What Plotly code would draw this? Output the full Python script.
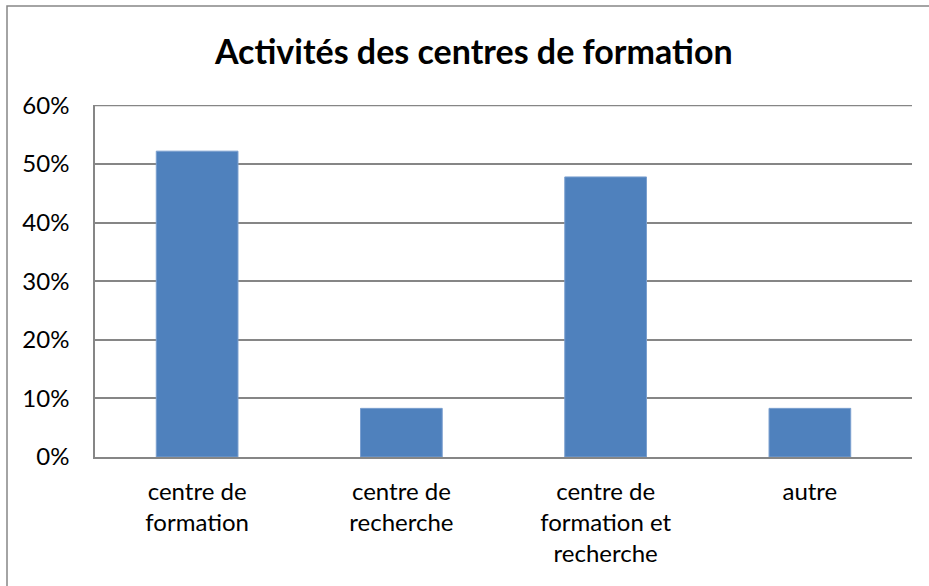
import plotly.graph_objects as go

categories = ["centre de<br>formation", "centre de<br>recherche", "centre de<br>formation et<br>recherche", "autre"]
values = [0.522, 0.083, 0.478, 0.083]
tick_vals = [0, 0.1, 0.2, 0.3, 0.4, 0.5, 0.6]
tick_text = ["0%", "10%", "20%", "30%", "40%", "50%", "60%"]
title_text = "Activités des centres de formation"

W, H = 929, 586
L, R, T, B = 95, 17, 105, 129
pw, ph = W - L - R, H - T - B

def px_x(x):
    return (x - L) / pw

def px_y(y):
    return (H - B - y) / ph

FONT = "Lato"

fig = go.Figure(go.Bar(
    x=categories, y=values,
    marker=dict(color="#4F81BD", line=dict(color="#7A9FCF", width=1)),
    width=0.4,
))

fig.update_layout(
    width=W, height=H,
    margin=dict(l=L, r=R, t=T, b=B, pad=0),
    paper_bgcolor="white", plot_bgcolor="white",
    showlegend=False,
    font=dict(family=FONT, size=24, color="black"),
    title=dict(text="<b>" + title_text + "</b>", x=0.51, xanchor="center",
               y=1 - 52 / H, yanchor="middle",
               font=dict(family=FONT, size=34, color="black")),
    bargap=0.6,
    shapes=[
        dict(type="rect", xref="paper", yref="paper",
             x0=px_x(7), x1=px_x(980), y0=px_y(640), y1=px_y(6),
             line=dict(color="#868686", width=1.5), fillcolor="rgba(0,0,0,0)",
             layer="below"),
        dict(type="line", xref="paper", yref="y",
             x0=0, x1=1, y0=tick_vals[-1], y1=tick_vals[-1],
             line=dict(color="#868686", width=1.5), layer="below"),
    ],
)

fig.update_yaxes(range=[0, 0.6008], tickvals=tick_vals, ticktext=tick_text,
                 showgrid=True, gridcolor="#868686", gridwidth=1.5,
                 showline=True, linecolor="#868686", linewidth=1.5,
                 zeroline=False, ticks="", ticklabelstandoff=19,
                 tickfont=dict(family=FONT, size=24, color="black"))
fig.update_xaxes(showline=True, linecolor="#868686", linewidth=1.5,
                 showgrid=False, ticks="", ticklabelstandoff=12,
                 tickfont=dict(family=FONT, size=24, color="black"))

fig.write_html("out.html", config={"displayModeBar": False},
               post_script="document.body.style.margin='0';document.body.style.overflow='hidden';")
